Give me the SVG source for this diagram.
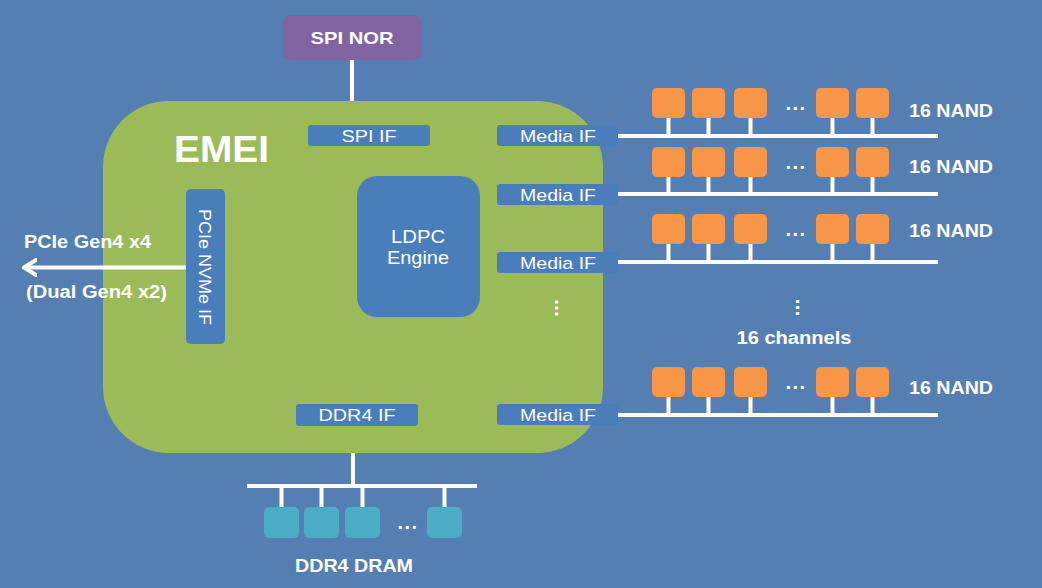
<svg xmlns="http://www.w3.org/2000/svg" width="1042" height="588" viewBox="0 0 1042 588">
<defs>
<style>
text{font-family:"Liberation Sans",Arial,sans-serif;fill:#ffffff}
.b{font-weight:bold}
.blk{fill:#4a7ebb}
.nand{fill:#f79646}
.dram{fill:#4bacc6}
.ln{stroke:#ffffff;stroke-width:4;fill:none}
.if{font-size:17px;text-anchor:middle}
.lab{font-size:18px;font-weight:bold}
.dots{font-size:20px;font-weight:bold;text-anchor:middle;letter-spacing:1.5px}
.vdots{font-size:20px;font-weight:bold;text-anchor:middle;letter-spacing:0.5px}
</style>
<marker id="arr" viewBox="0 0 16 20" refX="12" refY="10" markerWidth="16" markerHeight="20" markerUnits="userSpaceOnUse" orient="auto">
<path d="M1,2.5 L13,10 L1,17.5" fill="none" stroke="#ffffff" stroke-width="4" stroke-linejoin="round" stroke-linecap="round"/>
</marker>
</defs>
<rect width="1042" height="588" fill="#557fb3"/>

<g id="spi-nor">
<rect x="283" y="15" width="138" height="45" rx="7" fill="#8064a2"/>
<text x="352" y="44" class="b" font-size="17" text-anchor="middle" textLength="83" lengthAdjust="spacingAndGlyphs">SPI NOR</text>
</g>

<g id="emei">
<rect x="103" y="101" width="500" height="352" rx="66" fill="#9bbb59"/>
<text x="174" y="162" class="b" font-size="37" textLength="95" lengthAdjust="spacingAndGlyphs">EMEI</text>
</g>

<g id="spi-if">
<rect class="blk" x="308" y="125" width="122" height="21" rx="3"/>
<text class="if" x="369" y="142" textLength="55" lengthAdjust="spacingAndGlyphs">SPI IF</text>
</g>

<g id="media-if-1">
<rect class="blk" x="497" y="125" width="121" height="21" rx="3"/>
<text class="if" x="558" y="142" textLength="76" lengthAdjust="spacingAndGlyphs">Media IF</text>
</g>
<g id="media-if-2">
<rect class="blk" x="497" y="184" width="121" height="21" rx="3"/>
<text class="if" x="558" y="201" textLength="76" lengthAdjust="spacingAndGlyphs">Media IF</text>
</g>
<g id="media-if-3">
<rect class="blk" x="497" y="252" width="121" height="21" rx="3"/>
<text class="if" x="558" y="269" textLength="76" lengthAdjust="spacingAndGlyphs">Media IF</text>
</g>
<text class="vdots" x="556.3" y="309.5" transform="rotate(90 556 308)">...</text>
<g id="media-if-4">
<rect class="blk" x="497" y="404" width="121" height="21" rx="3"/>
<text class="if" x="558" y="421" textLength="76" lengthAdjust="spacingAndGlyphs">Media IF</text>
</g>

<g id="ldpc">
<rect class="blk" x="357" y="176" width="123" height="141" rx="20"/>
<text x="418" y="243" font-size="18" text-anchor="middle" textLength="54" lengthAdjust="spacingAndGlyphs">LDPC</text>
<text x="418" y="264" font-size="18" text-anchor="middle" textLength="62" lengthAdjust="spacingAndGlyphs">Engine</text>
</g>

<g id="pcie-if">
<rect class="blk" x="186" y="189" width="39" height="155" rx="5"/>
<text x="205.5" y="273.5" font-size="17" text-anchor="middle" transform="rotate(90 205.5 267)" textLength="116" lengthAdjust="spacingAndGlyphs">PCIe NVMe IF</text>
</g>

<g id="ddr4-if">
<rect class="blk" x="296" y="404" width="122" height="22" rx="3"/>
<text class="if" x="357" y="421" textLength="77" lengthAdjust="spacingAndGlyphs">DDR4 IF</text>
</g>

<g id="pcie-label">
<text x="24" y="248" class="lab" textLength="127" lengthAdjust="spacingAndGlyphs">PCIe Gen4 x4</text>
<text x="26" y="298" class="lab" textLength="141" lengthAdjust="spacingAndGlyphs">(Dual Gen4 x2)</text>
</g>

<g id="nand-row-1">
<rect class="nand" x="652" y="88" width="33" height="30" rx="5"/>
<rect class="nand" x="692" y="88" width="33" height="30" rx="5"/>
<rect class="nand" x="734" y="88" width="33" height="30" rx="5"/>
<rect class="nand" x="816" y="88" width="33" height="30" rx="5"/>
<rect class="nand" x="856" y="88" width="33" height="30" rx="5"/>
<text x="796" y="110" class="dots">...</text>
<text x="909" y="117" class="lab" textLength="84" lengthAdjust="spacingAndGlyphs">16 NAND</text>
</g>
<g id="nand-row-2">
<rect class="nand" x="652" y="147" width="33" height="30" rx="5"/>
<rect class="nand" x="692" y="147" width="33" height="30" rx="5"/>
<rect class="nand" x="734" y="147" width="33" height="30" rx="5"/>
<rect class="nand" x="816" y="147" width="33" height="30" rx="5"/>
<rect class="nand" x="856" y="147" width="33" height="30" rx="5"/>
<text x="796" y="169" class="dots">...</text>
<text x="909" y="173" class="lab" textLength="84" lengthAdjust="spacingAndGlyphs">16 NAND</text>
</g>
<g id="nand-row-3">
<rect class="nand" x="652" y="214" width="33" height="30" rx="5"/>
<rect class="nand" x="692" y="214" width="33" height="30" rx="5"/>
<rect class="nand" x="734" y="214" width="33" height="30" rx="5"/>
<rect class="nand" x="816" y="214" width="33" height="30" rx="5"/>
<rect class="nand" x="856" y="214" width="33" height="30" rx="5"/>
<text x="796" y="236" class="dots">...</text>
<text x="909" y="237" class="lab" textLength="84" lengthAdjust="spacingAndGlyphs">16 NAND</text>
</g>
<g id="channels">
<text class="vdots" x="797.3" y="309" transform="rotate(90 797 307.5)">...</text>
<text x="794" y="344" class="lab" text-anchor="middle" textLength="115" lengthAdjust="spacingAndGlyphs">16 channels</text>
</g>
<g id="nand-row-4">
<rect class="nand" x="652" y="367" width="33" height="30" rx="5"/>
<rect class="nand" x="692" y="367" width="33" height="30" rx="5"/>
<rect class="nand" x="734" y="367" width="33" height="30" rx="5"/>
<rect class="nand" x="816" y="367" width="33" height="30" rx="5"/>
<rect class="nand" x="856" y="367" width="33" height="30" rx="5"/>
<text x="796" y="389" class="dots">...</text>
<text x="909" y="394" class="lab" textLength="84" lengthAdjust="spacingAndGlyphs">16 NAND</text>
</g>

<g id="dram">
<rect class="dram" x="264" y="507" width="35" height="31" rx="5"/>
<rect class="dram" x="304" y="507" width="35" height="31" rx="5"/>
<rect class="dram" x="345" y="507" width="35" height="31" rx="5"/>
<rect class="dram" x="427" y="507" width="35" height="31" rx="5"/>
<text x="408" y="529" class="dots">...</text>
<text x="354" y="572" class="lab" text-anchor="middle" textLength="118" lengthAdjust="spacingAndGlyphs">DDR4 DRAM</text>
</g>

<g id="connectors">
<line class="ln" x1="352" y1="60" x2="352" y2="101"/>
<line class="ln" x1="186" y1="267.5" x2="25" y2="267.5" marker-end="url(#arr)"/>
<line class="ln" x1="353" y1="453" x2="353" y2="486"/>
<line class="ln" x1="247" y1="486" x2="477" y2="486"/>
<line class="ln" x1="281.5" y1="486" x2="281.5" y2="507"/>
<line class="ln" x1="321.5" y1="486" x2="321.5" y2="507"/>
<line class="ln" x1="362.5" y1="486" x2="362.5" y2="507"/>
<line class="ln" x1="444.5" y1="486" x2="444.5" y2="507"/>
<g id="bus1">
<line class="ln" x1="618" y1="136" x2="938" y2="136"/>
<line class="ln" x1="668.5" y1="118" x2="668.5" y2="136"/>
<line class="ln" x1="708.5" y1="118" x2="708.5" y2="136"/>
<line class="ln" x1="750.5" y1="118" x2="750.5" y2="136"/>
<line class="ln" x1="832.5" y1="118" x2="832.5" y2="136"/>
<line class="ln" x1="872.5" y1="118" x2="872.5" y2="136"/>
</g>
<g id="bus2">
<line class="ln" x1="618" y1="194" x2="938" y2="194"/>
<line class="ln" x1="668.5" y1="177" x2="668.5" y2="194"/>
<line class="ln" x1="708.5" y1="177" x2="708.5" y2="194"/>
<line class="ln" x1="750.5" y1="177" x2="750.5" y2="194"/>
<line class="ln" x1="832.5" y1="177" x2="832.5" y2="194"/>
<line class="ln" x1="872.5" y1="177" x2="872.5" y2="194"/>
</g>
<g id="bus3">
<line class="ln" x1="618" y1="262" x2="938" y2="262"/>
<line class="ln" x1="668.5" y1="244" x2="668.5" y2="262"/>
<line class="ln" x1="708.5" y1="244" x2="708.5" y2="262"/>
<line class="ln" x1="750.5" y1="244" x2="750.5" y2="262"/>
<line class="ln" x1="832.5" y1="244" x2="832.5" y2="262"/>
<line class="ln" x1="872.5" y1="244" x2="872.5" y2="262"/>
</g>
<g id="bus4">
<line class="ln" x1="618" y1="415" x2="938" y2="415"/>
<line class="ln" x1="668.5" y1="397" x2="668.5" y2="415"/>
<line class="ln" x1="708.5" y1="397" x2="708.5" y2="415"/>
<line class="ln" x1="750.5" y1="397" x2="750.5" y2="415"/>
<line class="ln" x1="832.5" y1="397" x2="832.5" y2="415"/>
<line class="ln" x1="872.5" y1="397" x2="872.5" y2="415"/>
</g>
</g>
</svg>
